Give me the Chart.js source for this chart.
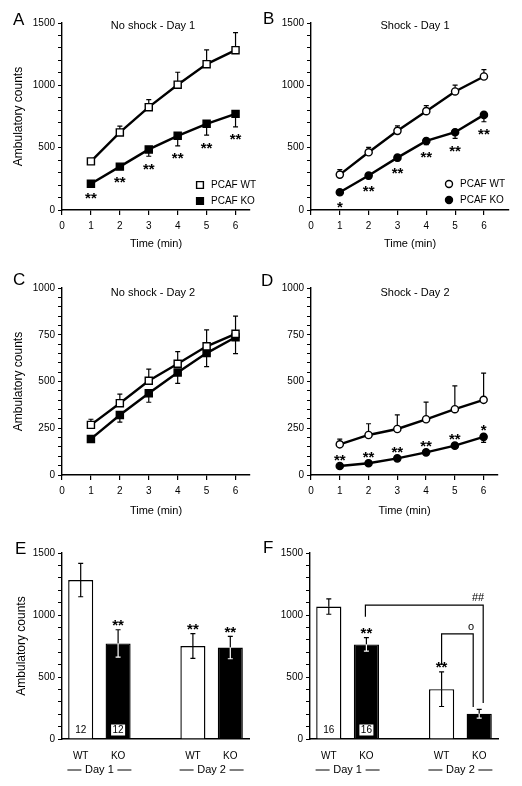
<!DOCTYPE html>
<html>
<head>
<meta charset="utf-8">
<script src="https://cdn.jsdelivr.net/npm/chart.js@4.4.1/dist/chart.umd.min.js"></script>
<style>
  body { margin: 0; background: #fff; }
  #wrap { position: relative; width: 522px; height: 786px; }
  canvas { position: absolute; }
</style>
</head>
<body>
<div id="wrap">
  <canvas id="cA" width="261" height="262" style="left:0;top:0"></canvas>
  <canvas id="cB" width="261" height="262" style="left:261px;top:0"></canvas>
  <canvas id="cC" width="261" height="262" style="left:0;top:262px"></canvas>
  <canvas id="cD" width="261" height="262" style="left:261px;top:262px"></canvas>
  <canvas id="cE" width="261" height="262" style="left:0;top:524px"></canvas>
  <canvas id="cF" width="261" height="262" style="left:261px;top:524px"></canvas>
</div>
<script>
// time course, minutes
const times = [1, 2, 3, 4, 5, 6];
const xTitle = 'Time (min)';
const yTitle = 'Ambulatory counts';
const legendLabels = ['PCAF WT', 'PCAF KO'];

// A: No shock - Day 1
const wtA = [390, 622, 825, 1005, 1170, 1282];
const wtErrA = [20, 50, 60, 100, 115, 140];
const koA = [210, 348, 486, 595, 691, 771];
const koErrA = [15, 20, 55, 80, 90, 105];
const starsA = ['**', '**', '**', '**', '**', '**'];

// B: Shock - Day 1
const wtB = [284, 463, 635, 793, 951, 1071];
const wtErrB = [40, 40, 40, 45, 50, 55];
const koB = [142, 276, 420, 554, 624, 763];
const koErrB = [20, 25, 25, 30, 50, 55];
const starsB = ['*', '**', '**', '**', '**', '**'];

// C: No shock - Day 2
const wtC = [268, 384, 504, 595, 688, 755];
const wtErrC = [30, 48, 62, 65, 88, 95];
const koC = [193, 321, 437, 548, 652, 737];
const koErrC = [10, 38, 48, 58, 72, 88];

// D: Shock - Day 2
const wtD = [164, 214, 246, 298, 352, 402];
const wtErrD = [28, 60, 75, 92, 125, 143];
const koD = [48, 63, 89, 121, 157, 204];
const koErrD = [5, 5, 5, 5, 10, 30];
const starsD = ['**', '**', '**', '**', '**', '*'];

// E / F: totals
const barCats = ['WT', 'KO', '', 'WT', 'KO'];
const barFills = ['#fff', '#000', '#fff', '#fff', '#000'];
const dayLabels = ['Day 1', 'Day 2'];
const totalE = [1282, 771, null, 750, 737];
const totalErrE = [135, 110, null, 100, 90];
const starsE = ['', '**', '', '**', '**'];
const nE = ['12', '12'];
const totalF = [1068, 763, null, 402, 204];
const totalErrF = [62, 55, null, 140, 35];
const starsF = ['', '**', '', '**', ''];
const nF = ['16', '16'];
const bracketsF = [
  { from: 1, to: 4, y0: 985, top: 1080, y1: 290, mark: '##', dxFrom: -1, dxTo: 4 },
  { from: 3, to: 4, y0: 597, top: 848, y1: 258, mark: 'o', dxFrom: 0, dxTo: -6 }
];

const FAM = "'Liberation Sans', Arial, Helvetica, sans-serif";
Chart.defaults.font.family = FAM;
Chart.defaults.color = '#000';

function drawLetter(ctx, p) {
  ctx.font = '17px ' + FAM;
  ctx.fillStyle = '#000';
  ctx.textAlign = 'left';
  ctx.textBaseline = 'alphabetic';
  ctx.fillText(p.letter, p.letterX, p.letterY);
}

function drawStar(ctx, s, x, yc) {
  ctx.font = 'bold 15px ' + FAM;
  ctx.textAlign = 'center';
  ctx.textBaseline = 'alphabetic';
  ctx.fillText(s, x, yc + 8.5);
}

function lineDecor(p) {
  return {
    id: 'lineDecor',
    beforeDatasetsDraw(chart) {
      const { ctx, scales: { x, y } } = chart;
      ctx.save();
      ctx.strokeStyle = '#000';
      ctx.lineWidth = 1.2;
      [[p.wt, p.wtErr, 1], [p.ko, p.koErr, -1]].forEach(([vals, errs, dir]) => {
        vals.forEach((v, i) => {
          const px = x.getPixelForValue(times[i]);
          const y0 = y.getPixelForValue(v);
          const y1 = y.getPixelForValue(v + dir * errs[i]);
          ctx.beginPath();
          ctx.moveTo(px, y0); ctx.lineTo(px, y1);
          ctx.moveTo(px - 2.5, y1); ctx.lineTo(px + 2.5, y1);
          ctx.stroke();
        });
      });
      ctx.restore();
    },
    afterDatasetsDraw(chart) {
      const { ctx, scales: { x, y } } = chart;
      ctx.save();
      ctx.fillStyle = '#000';
      // significance marks
      (p.stars || []).forEach((s, i) => {
        const px = x.getPixelForValue(times[i]);
        let yc;
        if (p.starSide === 'above') yc = y.getPixelForValue(p.ko[i]) - 10;
        else yc = y.getPixelForValue(p.ko[i] - p.koErr[i]) + 9;
        drawStar(ctx, s, px, yc);
      });
      // title
      ctx.font = '11px ' + FAM;
      ctx.textAlign = 'center';
      ctx.textBaseline = 'middle';
      ctx.fillText(p.title, p.titleX, p.titleY);
      // legend
      if (p.legend) {
        legendLabels.forEach((lab, k) => {
          const ly = p.legend.y + k * 16;
          ctx.lineWidth = 1.4;
          ctx.strokeStyle = '#000';
          ctx.fillStyle = k === 0 ? '#fff' : '#000';
          ctx.beginPath();
          if (p.marker === 'rect') ctx.rect(p.legend.x - 3.4, ly - 3.4, 6.8, 6.8);
          else ctx.arc(p.legend.x, ly, 3.5, 0, Math.PI * 2);
          ctx.fill(); ctx.stroke();
          ctx.fillStyle = '#000';
          ctx.font = '10px ' + FAM;
          ctx.textAlign = 'left';
          ctx.fillText(lab, p.legend.x + 11, ly + 0.5);
        });
      }
      drawLetter(ctx, p);
      ctx.restore();
    }
  };
}

function lineChart(p) {
  const ds = (label, vals, fill) => ({
    label,
    data: times.map((t, i) => ({ x: t, y: vals[i] })),
    borderColor: '#000', borderWidth: 2.4, tension: 0, fill: false,
    pointStyle: p.marker, pointRadius: p.marker === 'rect' ? 5 : 3.6,
    pointBackgroundColor: fill, pointBorderColor: '#000', pointBorderWidth: 1.4
  });
  new Chart(document.getElementById(p.id), {
    type: 'line',
    data: { datasets: [ds(legendLabels[0], p.wt, '#fff'), ds(legendLabels[1], p.ko, '#000')] },
    options: {
      responsive: false, animation: false, events: [],
      layout: { padding: { left: 0, top: p.top, right: p.right, bottom: 0 } },
      plugins: { legend: { display: false }, tooltip: { enabled: false } },
      scales: {
        x: {
          type: 'linear', min: 0, max: p.xmax,
          afterFit: s => { s.height = p.xh; },
          ticks: { stepSize: 1, includeBounds: false, font: { size: 10 }, padding: 5, maxRotation: 0 },
          grid: { drawOnChartArea: false, color: '#000', tickLength: 5, lineWidth: 1.2 },
          border: { color: '#000', width: 1.4 },
          title: { display: true, text: xTitle, font: { size: 11 }, padding: { top: 0, bottom: p.xtp } }
        },
        y: {
          min: 0, max: p.ymax,
          afterFit: s => { s.width = p.yw; },
          ticks: {
            stepSize: p.minor, autoSkip: false, maxTicksLimit: 100, font: { size: 10 }, padding: 3,
            callback: v => (v % p.major === 0 ? v : '')
          },
          grid: { drawOnChartArea: false, color: '#000', tickLength: 4, lineWidth: 1 },
          border: { color: '#000', width: 1.4 },
          title: { display: !!p.ytitle, text: yTitle, font: { size: 12 }, padding: { top: 11, bottom: 0 } }
        }
      }
    },
    plugins: [lineDecor(p)]
  });
}

function barDecor(p) {
  const seg = (ctx, x, ya, yb, col) => {
    ctx.strokeStyle = col;
    ctx.beginPath();
    ctx.moveTo(x, ya); ctx.lineTo(x, yb);
    ctx.moveTo(x - 2.5, yb); ctx.lineTo(x + 2.5, yb);
    ctx.stroke();
  };
  return {
    id: 'barDecor',
    afterDatasetsDraw(chart) {
      const { ctx, scales: { x, y } } = chart;
      ctx.save();
      ctx.lineWidth = 1.2;
      p.vals.forEach((v, i) => {
        if (v == null) return;
        const px = x.getPixelForValue(i);
        const yv = y.getPixelForValue(v);
        seg(ctx, px, yv, y.getPixelForValue(v + p.errs[i]), '#000');
        seg(ctx, px, yv, y.getPixelForValue(v - p.errs[i]), barFills[i] === '#000' ? '#fff' : '#000');
      });
      ctx.fillStyle = '#000';
      p.stars.forEach((s, i) => {
        if (!s) return;
        drawStar(ctx, s, x.getPixelForValue(i), y.getPixelForValue(p.vals[i] + p.errs[i]) - 8);
      });
      // group sizes
      ctx.font = '10px ' + FAM;
      ctx.textAlign = 'center';
      ctx.textBaseline = 'middle';
      const yn = y.getPixelForValue(0) - 9;
      p.n.forEach((t, i) => {
        const px = x.getPixelForValue(i);
        if (barFills[i] === '#000') {
          ctx.fillStyle = '#fff';
          ctx.fillRect(px - 7, yn - 5.5, 14, 11);
        }
        ctx.fillStyle = '#000';
        ctx.fillText(t, px, yn + 0.5);
      });
      // day labels
      ctx.font = '11px ' + FAM;
      ctx.lineWidth = 1;
      ctx.strokeStyle = '#000';
      const yd = chart.height - 16;
      dayLabels.forEach((d, k) => {
        const mid = (x.getPixelForValue(k * 3) + x.getPixelForValue(k * 3 + 1)) / 2;
        ctx.fillText(d, mid, yd);
        ctx.beginPath();
        ctx.moveTo(mid - 32, yd); ctx.lineTo(mid - 18, yd);
        ctx.moveTo(mid + 18, yd); ctx.lineTo(mid + 32, yd);
        ctx.stroke();
      });
      // brackets
      (p.brackets || []).forEach(b => {
        const xa = x.getPixelForValue(b.from) + b.dxFrom;
        const xb = x.getPixelForValue(b.to) + b.dxTo;
        const yt = y.getPixelForValue(b.top);
        ctx.lineWidth = 1.2;
        ctx.beginPath();
        ctx.moveTo(xa, y.getPixelForValue(b.y0));
        ctx.lineTo(xa, yt); ctx.lineTo(xb, yt);
        ctx.lineTo(xb, y.getPixelForValue(b.y1));
        ctx.stroke();
        ctx.font = '11px ' + FAM;
        ctx.textAlign = 'right';
        ctx.fillText(b.mark, xb + 1, yt - 7);
      });
      drawLetter(ctx, p);
      ctx.restore();
    }
  };
}

function barChart(p) {
  new Chart(document.getElementById(p.id), {
    type: 'bar',
    data: {
      labels: barCats,
      datasets: [{
        data: p.vals, backgroundColor: barFills, borderColor: '#000', borderWidth: 1.4,
        barPercentage: 0.67, categoryPercentage: 1
      }]
    },
    options: {
      responsive: false, animation: false, events: [],
      layout: { padding: { left: 0, top: p.top, right: p.right, bottom: 0 } },
      plugins: { legend: { display: false }, tooltip: { enabled: false } },
      scales: {
        x: {
          afterFit: s => { s.height = p.xh; },
          ticks: { font: { size: 10 }, padding: 3, maxRotation: 0 },
          grid: { display: false },
          border: { color: '#000', width: 1.4 }
        },
        y: {
          min: 0, max: 1500,
          afterFit: s => { s.width = p.yw; },
          ticks: {
            stepSize: 100, autoSkip: false, maxTicksLimit: 100, font: { size: 10 }, padding: 3,
            callback: v => (v % 500 === 0 ? v : '')
          },
          grid: { drawOnChartArea: false, color: '#000', tickLength: 4, lineWidth: 1 },
          border: { color: '#000', width: 1.4 },
          title: { display: !!p.ytitle, text: yTitle, font: { size: 12 }, padding: { top: 14, bottom: 0 } }
        }
      }
    },
    plugins: [barDecor(p)]
  });
}

lineChart({ id: 'cA', letter: 'A', letterX: 13, letterY: 25, title: 'No shock - Day 1', titleX: 153, titleY: 26,
  wt: wtA, wtErr: wtErrA, ko: koA, koErr: koErrA, stars: starsA, starSide: 'below',
  marker: 'rect', legend: { x: 200, y: 185 }, ytitle: true,
  top: 23, right: 11, yw: 62, xh: 52, xtp: 11, xmax: 6.5, ymax: 1500, minor: 100, major: 500 });

lineChart({ id: 'cB', letter: 'B', letterX: 2, letterY: 24, title: 'Shock - Day 1', titleX: 154, titleY: 26,
  wt: wtB, wtErr: wtErrB, ko: koB, koErr: koErrB, stars: starsB, starSide: 'below',
  marker: 'circle', legend: { x: 188, y: 184 }, ytitle: false,
  top: 23, right: 13, yw: 50, xh: 52, xtp: 11, xmax: 6.87, ymax: 1500, minor: 100, major: 500 });

lineChart({ id: 'cC', letter: 'C', letterX: 13, letterY: 23, title: 'No shock - Day 2', titleX: 153, titleY: 31,
  wt: wtC, wtErr: wtErrC, ko: koC, koErr: koErrC, stars: [], starSide: 'below',
  marker: 'rect', legend: null, ytitle: true,
  top: 26, right: 11, yw: 62, xh: 49, xtp: 6, xmax: 6.5, ymax: 1000, minor: 50, major: 250 });

lineChart({ id: 'cD', letter: 'D', letterX: 0, letterY: 24, title: 'Shock - Day 2', titleX: 154, titleY: 31,
  wt: wtD, wtErr: wtErrD, ko: koD, koErr: koErrD, stars: starsD, starSide: 'above',
  marker: 'circle', legend: null, ytitle: false,
  top: 26, right: 24, yw: 50, xh: 49, xtp: 6, xmax: 6.5, ymax: 1000, minor: 50, major: 250 });

barChart({ id: 'cE', letter: 'E', letterX: 15, letterY: 30, vals: totalE, errs: totalErrE, stars: starsE, n: nE,
  brackets: [], ytitle: true, top: 29, right: 12, yw: 62, xh: 47 });

barChart({ id: 'cF', letter: 'F', letterX: 2, letterY: 29, vals: totalF, errs: totalErrF, stars: starsF, n: nF,
  brackets: bracketsF, ytitle: false, top: 29, right: 24, yw: 49, xh: 47 });
</script>
</body>
</html>
